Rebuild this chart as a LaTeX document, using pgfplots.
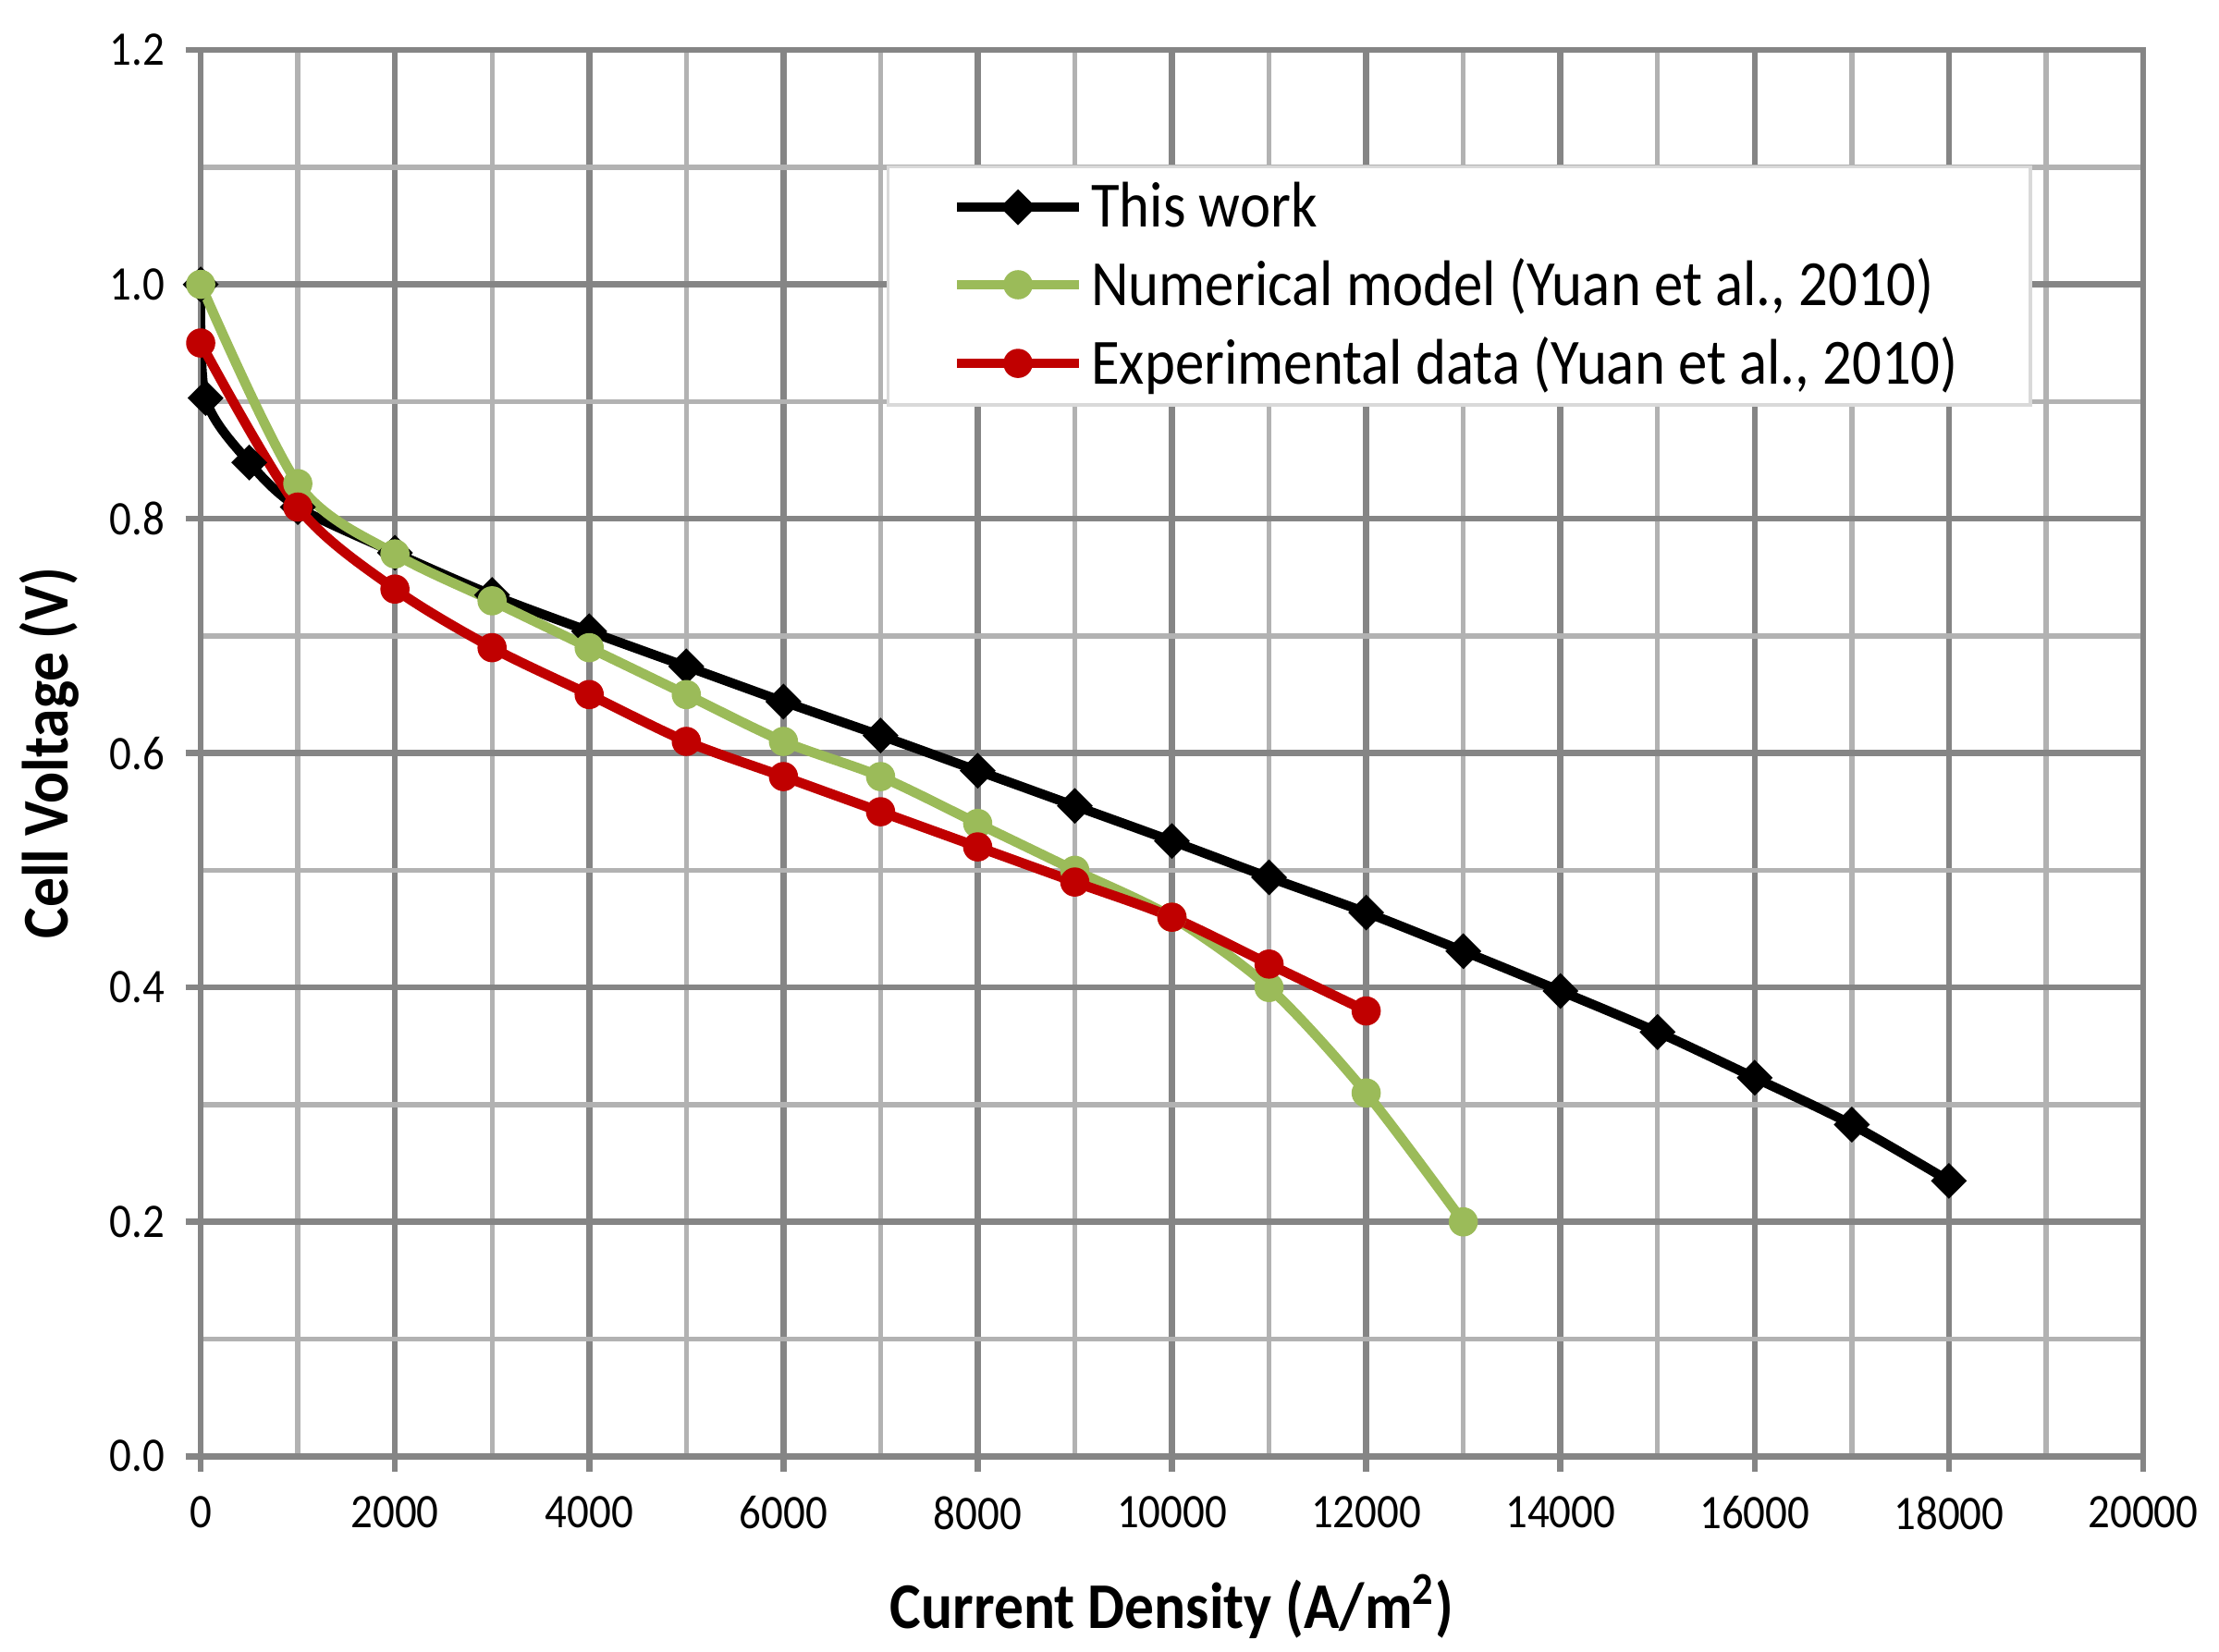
\documentclass[border=0pt]{standalone}
\usepackage{fontspec}
\setmainfont{Carlito}[FakeStretch=0.9]
\usepackage{pgfplots}
\pgfplotsset{compat=1.18}
\definecolor{majgrid}{HTML}{858585}
\definecolor{mingrid}{HTML}{B2B2B2}
\definecolor{xlgreen}{HTML}{9BBB59}
\definecolor{xlred}{HTML}{C00000}
\begin{document}
\begin{tikzpicture}
\begin{axis}[
  name=ax,
  scale only axis, width=512pt, height=370.7pt,
  xmin=0, xmax=20000, ymin=0, ymax=1.2,
  xtick={0,2000,4000,6000,8000,10000,12000,14000,16000,18000,20000},
  minor xtick={1000,3000,5000,7000,9000,11000,13000,15000,17000,19000},
  ytick={0,0.2,0.4,0.6,0.8,1.0,1.2},
  minor ytick={0.1,0.3,0.5,0.7,0.9,1.1},
  scaled x ticks=false, scaled y ticks=false,
  grid=both,
  major grid style={line width=1.6pt, majgrid},
  minor grid style={line width=1.3pt, mingrid},
  axis line style={line width=1.6pt, majgrid},
  major tick style={line width=1.6pt, majgrid},
  major tick length=4pt, minor tick length=0pt,
  tick align=outside,
  xtick pos=bottom, ytick pos=left,
  /pgf/number format/assume math mode=true,
  ticklabel style={font=\fontsize{12.7}{15}\selectfont},
  xticklabel style={/pgf/number format/.cd, fixed, 1000 sep={}, /tikz/.cd, yshift=-3pt},
  yticklabel style={/pgf/number format/.cd, fixed, fixed zerofill, precision=1, /tikz/.cd, xshift=-2pt},
  xlabel={\textbf{Current Density (A/m\textsuperscript{2})}},
  ylabel={\textbf{Cell Voltage (V)}},
  label style={font=\fontsize{17.2}{20}\selectfont},
  xlabel style={at={(axis description cs:0.5,-0.107)}, anchor=center},
  ylabel style={at={(axis description cs:-0.078,0.5)}, anchor=center},
  legend style={at={(axis description cs:0.353,0.918)}, anchor=north west,
    draw=gray!30, line width=0.8pt, fill=white,
    font=\fontsize{17}{20}\selectfont, inner xsep=17pt, inner ysep=2pt,
    row sep=2.8pt},
  legend cell align=left,
  legend image code/.code={\draw[mark repeat=2,mark phase=2] plot coordinates {(0pt,0pt) (16pt,0pt) (32pt,0pt)};},
]
\addplot[black, line width=2.5pt, smooth, tension=0.5, mark=square*, mark size=3.1pt, mark options={solid, rotate=45, line width=0.5pt}] coordinates {
(0,1.0) (50,0.903) (500,0.848) (1000,0.81) (2000,0.771) (3000,0.735) (4000,0.704) (5000,0.674) (6000,0.644) (7000,0.615) (8000,0.585) (9000,0.555) (10000,0.525) (11000,0.494) (12000,0.464) (13000,0.431) (14000,0.397) (15000,0.362) (16000,0.323) (17000,0.283) (18000,0.235)
};
\addlegendentry{This work}
\addplot[xlgreen, line width=2.6pt, smooth, tension=0.5, mark=*, mark size=3.6pt, mark options={solid, line width=0.5pt}] coordinates {
(0,1.0) (1000,0.83) (2000,0.77) (3000,0.73) (4000,0.69) (5000,0.65) (6000,0.61) (7000,0.58) (8000,0.54) (9000,0.50) (10000,0.46) (11000,0.40) (12000,0.31) (13000,0.20)
};
\addlegendentry{Numerical model (Yuan et al., 2010)}
\addplot[xlred, line width=2.6pt, smooth, tension=0.5, mark=*, mark size=3.6pt, mark options={solid, line width=0.5pt}] coordinates {
(0,0.95) (1000,0.81) (2000,0.74) (3000,0.69) (4000,0.65) (5000,0.61) (6000,0.58) (7000,0.55) (8000,0.52) (9000,0.49) (10000,0.46) (11000,0.42) (12000,0.38)
};
\addlegendentry{Experimental data (Yuan et al., 2010)}
\end{axis}
\path ([xshift=-52.9pt,yshift=-49.3pt]ax.south west) rectangle ([xshift=20pt,yshift=13.2pt]ax.north east);
\end{tikzpicture}
\end{document}
